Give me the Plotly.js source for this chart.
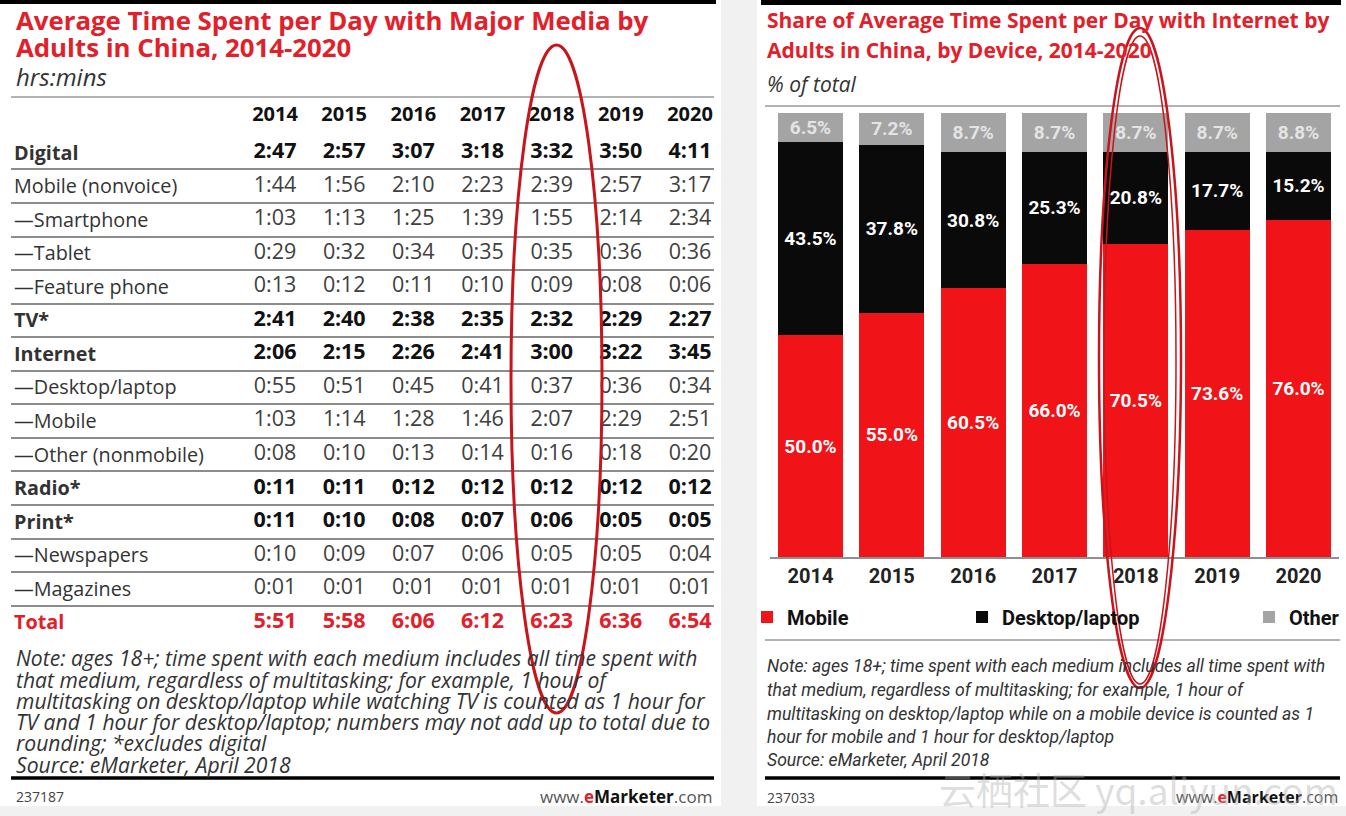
<!DOCTYPE html>
<html>
<head>
<meta charset="utf-8">
<script src="https://cdn.plot.ly/plotly-3.0.1.min.js"></script>
<style>
html,body{margin:0;padding:0;overflow:hidden;background:#f1f1f1;width:1346px;height:816px;}
#chart{width:1346px;height:816px;overflow:hidden;}
</style>
</head>
<body>
<div id="chart"></div>
<script>
// ---------- Left table data (hrs:mins) ----------
const tableYears = [2014, 2015, 2016, 2017, 2018, 2019, 2020];
const rowLabels = ['Digital', 'Mobile (nonvoice)', '—Smartphone', '—Tablet', '—Feature phone',
  'TV*', 'Internet', '—Desktop/laptop', '—Mobile', '—Other (nonmobile)',
  'Radio*', 'Print*', '—Newspapers', '—Magazines', 'Total'];
const rowKinds = ['bold', 'normal', 'normal', 'normal', 'normal',
  'bold', 'bold', 'normal', 'normal', 'normal',
  'bold', 'bold', 'normal', 'normal', 'total'];
const digital        = ['2:47', '2:57', '3:07', '3:18', '3:32', '3:50', '4:11'];
const mobileNonvoice = ['1:44', '1:56', '2:10', '2:23', '2:39', '2:57', '3:17'];
const smartphone     = ['1:03', '1:13', '1:25', '1:39', '1:55', '2:14', '2:34'];
const tablet         = ['0:29', '0:32', '0:34', '0:35', '0:35', '0:36', '0:36'];
const featurePhone   = ['0:13', '0:12', '0:11', '0:10', '0:09', '0:08', '0:06'];
const tv             = ['2:41', '2:40', '2:38', '2:35', '2:32', '2:29', '2:27'];
const internet       = ['2:06', '2:15', '2:26', '2:41', '3:00', '3:22', '3:45'];
const desktopLaptop  = ['0:55', '0:51', '0:45', '0:41', '0:37', '0:36', '0:34'];
const internetMobile = ['1:03', '1:14', '1:28', '1:46', '2:07', '2:29', '2:51'];
const otherNonmobile = ['0:08', '0:10', '0:13', '0:14', '0:16', '0:18', '0:20'];
const radio          = ['0:11', '0:11', '0:12', '0:12', '0:12', '0:12', '0:12'];
const print          = ['0:11', '0:10', '0:08', '0:07', '0:06', '0:05', '0:05'];
const newspapers     = ['0:10', '0:09', '0:07', '0:06', '0:05', '0:05', '0:04'];
const magazines      = ['0:01', '0:01', '0:01', '0:01', '0:01', '0:01', '0:01'];
const total          = ['5:51', '5:58', '6:06', '6:12', '6:23', '6:36', '6:54'];
const tableRows = [digital, mobileNonvoice, smartphone, tablet, featurePhone, tv, internet,
  desktopLaptop, internetMobile, otherNonmobile, radio, print, newspapers, magazines, total];

// ---------- Right chart data (% of total) ----------
const barYears = ['2014', '2015', '2016', '2017', '2018', '2019', '2020'];
const mobileShare  = [50.0, 55.0, 60.5, 66.0, 70.5, 73.6, 76.0];
const desktopShare = [43.5, 37.8, 30.8, 25.3, 20.8, 17.7, 15.2];
const otherShare   = [6.5, 7.2, 8.7, 8.7, 8.7, 8.7, 8.8];

// ---------- styling helpers ----------
const W = 1346, H = 816;
const px = x => x / W;
const py = y => 1 - y / H;
const OPEN = '"Open Sans", "DejaVu Sans", sans-serif';
const ROBO = 'Roboto, "Liberation Sans", sans-serif';
const RED = '#e2202a';
const BAR_RED = '#f01418';

const catNames = rowLabels.map((l, i) => {
  if (rowKinds[i] === 'bold') return '<b>' + l + '</b>';
  if (rowKinds[i] === 'total') return '<b><span style="color:' + RED + '">' + l + '</span></b>';
  return l;
});

const traces = [];
tableRows.forEach((vals, i) => {
  const kind = rowKinds[i];
  traces.push({
    type: 'scatter', mode: 'text', xaxis: 'x2', yaxis: 'y2',
    x: tableYears, y: tableYears.map(() => catNames[i]), text: vals,
    textposition: 'middle center', cliponaxis: false, hoverinfo: 'skip', showlegend: false,
    textfont: {
      family: OPEN, size: 21.5,
      color: kind === 'total' ? RED : (kind === 'bold' ? '#111' : '#404040'),
      weight: kind === 'normal' ? 400 : 700
    }
  });
});

const barText = {family: ROBO, size: 19, weight: 700};
traces.push({
  type: 'bar', name: 'Mobile', x: barYears, y: mobileShare, marker: {color: BAR_RED},
  texttemplate: '%{y:.1f}%', textposition: 'inside', insidetextanchor: 'middle', textangle: 0,
  constraintext: 'none', textfont: Object.assign({color: '#fff'}, barText), hoverinfo: 'skip',
  legend: 'legend'
});
traces.push({
  type: 'bar', name: 'Desktop/laptop', x: barYears, y: desktopShare, marker: {color: '#0a0a0a'},
  texttemplate: '%{y:.1f}%', textposition: 'inside', insidetextanchor: 'middle', textangle: 0,
  constraintext: 'none', textfont: Object.assign({color: '#fff'}, barText), hoverinfo: 'skip',
  legend: 'legend2'
});
traces.push({
  type: 'bar', name: 'Other', x: barYears, y: otherShare, marker: {color: '#a4a4a4'},
  texttemplate: '%{y:.1f}%', textposition: 'inside', insidetextanchor: 'middle', textangle: 0,
  constraintext: 'none', textfont: Object.assign({color: '#e4e4e4'}, barText), hoverinfo: 'skip',
  legend: 'legend3'
});

function hline(x0, x1, y, color, width) {
  return {type: 'line', xref: 'paper', yref: 'paper', x0: px(x0), x1: px(x1), y0: py(y), y1: py(y),
    line: {color: color, width: width}, layer: 'above'};
}
function rect(x0, x1, y0, y1, color, layer) {
  return {type: 'rect', xref: 'paper', yref: 'paper', x0: px(x0), x1: px(x1), y0: py(y1), y1: py(y0),
    fillcolor: color, line: {width: 0}, layer: layer || 'below'};
}
function ellipse(x0, x1, y0, y1, width) {
  return {type: 'circle', xref: 'paper', yref: 'paper', x0: px(x0), x1: px(x1), y0: py(y1), y1: py(y0),
    line: {color: '#c8151c', width: width}, layer: 'above'};
}
function txt(x, y, text, font, anchor) {
  return {xref: 'paper', yref: 'paper', x: px(x), y: py(y), text: text, showarrow: false,
    xanchor: anchor || 'left', yanchor: 'middle', font: font};
}

const shapes = [
  rect(0, 721, 0, 806, '#ffffff'),
  rect(757, 1346, 0, 806, '#ffffff'),
  rect(0, 716, 0, 4, '#000000', 'above'),
  rect(761, 1341, 0, 5, '#000000', 'above'),
  hline(11, 714, 97, '#9a9a9a', 1.5),
  hline(11, 714, 778, '#000000', 3.5),
  hline(765, 1340, 106, '#9a9a9a', 1.5),
  hline(765, 1340, 640, '#9a9a9a', 1.5),
  hline(765, 1340, 778, '#000000', 3.5),
  ellipse(511, 602, 45, 713, 3),
  ellipse(1099, 1181, 28, 688, 2.5),
  ellipse(1104, 1176, 36, 684, 1.5)
];

const titleL = {family: OPEN, size: 25.8, color: RED, weight: 700};
const titleR = {family: OPEN, size: 21, color: RED, weight: 700};
const noteL = {family: OPEN, size: 21.1, color: '#333', style: 'italic'};
const noteR = {family: ROBO, size: 17.6, color: '#333', style: 'italic'};
const eMk = '<span style="color:#555">www.</span><b><span style="color:' + RED + '">e</span>Marketer</b><span style="color:#555">.com</span>';

const annotations = [
  txt(14, 20, 'Average Time Spent per Day with Major Media by', titleL),
  txt(14, 47, 'Adults in China, 2014-2020', titleL),
  txt(14, 76, 'hrs:mins', {family: OPEN, size: 24, color: '#333', style: 'italic'}),
  txt(14, 657, 'Note: ages 18+; time spent with each medium includes all time spent with', noteL),
  txt(14, 679, 'that medium, regardless of multitasking; for example, 1 hour of', noteL),
  txt(14, 700, 'multitasking on desktop/laptop while watching TV is counted as 1 hour for', noteL),
  txt(14, 721, 'TV and 1 hour for desktop/laptop; numbers may not add up to total due to', noteL),
  txt(14, 742, 'rounding; *excludes digital', noteL),
  txt(14, 764, 'Source: eMarketer, April 2018', noteL),
  txt(14, 796, '237187', {family: OPEN, size: 14, color: '#444'}),
  txt(714, 796, eMk, {family: OPEN, size: 17, color: '#111'}, 'right'),

  txt(765, 20, 'Share of Average Time Spent per Day with Internet by', titleR),
  txt(765, 50, 'Adults in China, by Device, 2014-2020', titleR),
  txt(765, 84, '% of total', {family: OPEN, size: 21, color: '#333', style: 'italic'}),
  txt(765, 666, 'Note: ages 18+; time spent with each medium includes all time spent with', noteR),
  txt(765, 690, 'that medium, regardless of multitasking; for example, 1 hour of', noteR),
  txt(765, 714, 'multitasking on desktop/laptop while on a mobile device is counted as 1', noteR),
  txt(765, 737, 'hour for mobile and 1 hour for desktop/laptop', noteR),
  txt(765, 760, 'Source: eMarketer, April 2018', noteR),
  txt(765, 797, '237033', {family: OPEN, size: 14, color: '#444'}),
  txt(1340, 797, eMk, {family: OPEN, size: 16, color: '#111'}, 'right'),
  txt(1340, 789, '云栖社区 yq.aliyun.com', {family: '"Noto Sans CJK SC", sans-serif', size: 37, color: 'rgba(175,175,175,0.42)'}, 'right')
];

const legendFont = {family: ROBO, size: 20, color: '#111', weight: 700};
const legendBase = {orientation: 'h', yanchor: 'middle', y: py(617),
  font: legendFont, bgcolor: 'rgba(0,0,0,0)', itemclick: false, itemdoubleclick: false};

const layout = {
  width: W, height: H,
  margin: {l: 0, r: 0, t: 0, b: 0, autoexpand: false},
  paper_bgcolor: '#f1f1f1', plot_bgcolor: 'rgba(0,0,0,0)',
  barmode: 'stack', bargap: 0.2,
  showlegend: true,
  legend: Object.assign({x: px(747), xanchor: 'left'}, legendBase),
  legend2: Object.assign({x: px(962), xanchor: 'left'}, legendBase),
  legend3: Object.assign({x: px(1345), xanchor: 'right'}, legendBase),
  xaxis: {
    domain: [px(769.8), px(1339.2)], type: 'category', anchor: 'y',
    showline: true, linecolor: '#8f8f8f', linewidth: 1.5, ticks: '', showgrid: false,
    tickfont: {family: ROBO, size: 20, color: '#222', weight: 700}, ticklabelstandoff: 0
  },
  yaxis: {
    domain: [py(557), py(113)], range: [0, 100], anchor: 'x',
    visible: false, showgrid: false, zeroline: false
  },
  xaxis2: {
    domain: [px(11), px(714)], range: [2010.183, 2020.347], anchor: 'y2', side: 'top',
    tickmode: 'array', tickvals: tableYears, ticktext: tableYears.map(String),
    showgrid: false, zeroline: false, showline: false, ticks: '',
    tickfont: {family: OPEN, size: 20, color: '#111', weight: 700}, ticklabelstandoff: 10
  },
  yaxis2: {
    domain: [py(639.2), py(135.9)], anchor: 'x2', type: 'category',
    categoryorder: 'array', categoryarray: catNames, range: [14.5, -0.5], autorange: false,
    tickson: 'boundaries', showgrid: true, gridcolor: '#8c8c8c', gridwidth: 2,
    ticks: '', ticklabelposition: 'inside', showline: false, zeroline: false,
    tickfont: {family: OPEN, size: 19.8, color: '#333'}
  },
  shapes: shapes,
  annotations: annotations
};

Plotly.newPlot('chart', traces, layout, {staticPlot: true, displayModeBar: false});
</script>
</body>
</html>
